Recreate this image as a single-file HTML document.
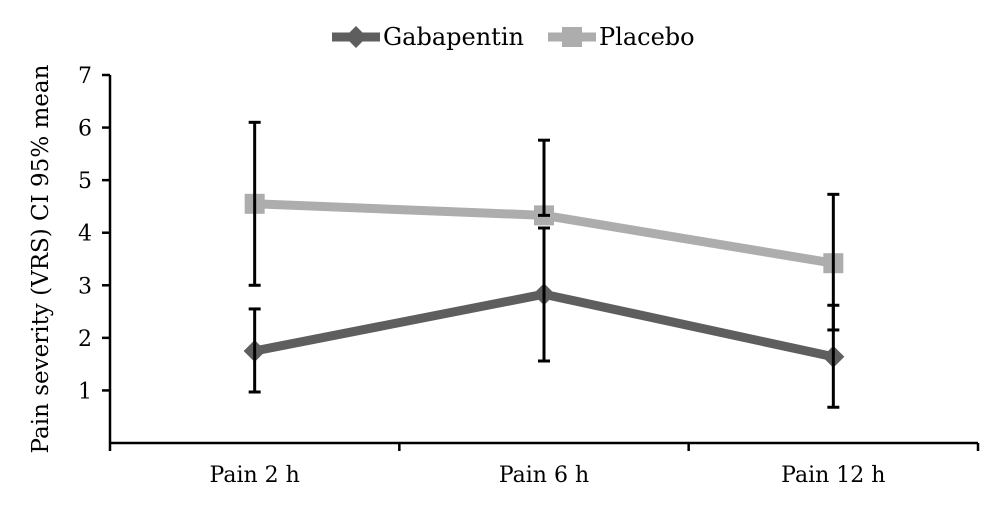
<!DOCTYPE html>
<html><head><meta charset="utf-8"><style>
body{margin:0;background:#fff;}
svg{display:block;font-family:"DejaVu Serif","Liberation Serif",serif;}
</style></head><body>
<svg id="chart" width="1000" height="507"></svg>
<script>
const categories=["Pain 2 h","Pain 6 h","Pain 12 h"];
const gabaMean=[1.75,2.83,1.64];
const gabaLow=[0.97,1.56,0.68];
const gabaHigh=[2.55,4.09,2.62];
const placMean=[4.55,4.33,3.42];
const placLow=[3.0,4.33,2.15];
const placHigh=[6.1,5.76,4.73];
const yTicks=[1,2,3,4,5,6,7];
const NS="http://www.w3.org/2000/svg";
const svg=document.getElementById('chart');
const x0=110,x1=978,y0=443,yTop=75,yMax=7;
const bw=(x1-x0)/categories.length;
const xs=i=>x0+bw*(i+0.5);
const ys=v=>y0-(y0-yTop)*v/yMax;
function el(t,a,p){const e=document.createElementNS(NS,t);for(const k in a)e.setAttribute(k,a[k]);(p||svg).appendChild(e);return e;}
// axes
let ax=el('line',{x1:x0,y1:y0,x2:x1,y2:y0,stroke:'#000','stroke-width':2.5});

ax=el('line',{x1:x0,y1:yTop,x2:x0,y2:y0,stroke:'#000','stroke-width':2.5});

for(let i=0;i<=categories.length;i++){el('line',{x1:x0+bw*i,y1:y0,x2:x0+bw*i,y2:y0+8,stroke:'#000','stroke-width':2.5});}
categories.forEach((c,i)=>{const t=el('text',{x:xs(i),y:482,'text-anchor':'middle','font-size':22});t.textContent=c;
});
yTicks.forEach(v=>{el('line',{x1:x0-8,y1:ys(v),x2:x0,y2:ys(v),stroke:'#000','stroke-width':2.5});
const t=el('text',{x:x0-18,y:ys(v)+8,'text-anchor':'end','font-size':22});t.textContent=v;
});
const yl=el('text',{x:0,y:0,transform:'translate(48,259) rotate(-90)','text-anchor':'middle','font-size':23});
yl.textContent='Pain severity (VRS) CI 95% mean';

// series
function series(mean,color,marker,name){
 const pts=mean.map((v,i)=>xs(i)+','+ys(v)).join(' ');
 const l=el('polyline',{points:pts,fill:'none',stroke:color,'stroke-width':9,'stroke-linejoin':'round'});
 
 mean.forEach((v,i)=>{let m;
  if(marker==='sq')m=el('rect',{x:xs(i)-10,y:ys(v)-10,width:20,height:20,fill:color});
  else m=el('polygon',{points:`${xs(i)},${ys(v)-11} ${xs(i)+11},${ys(v)} ${xs(i)},${ys(v)+11} ${xs(i)-11},${ys(v)}`,fill:color});
  });
}
function errs(lo,hi,name){
 lo.forEach((v,i)=>{const g=el('g',{stroke:'#000','stroke-width':3});
  
  el('line',{x1:xs(i),y1:ys(lo[i]),x2:xs(i),y2:ys(hi[i])},g);
  el('line',{x1:xs(i)-6,y1:ys(lo[i]),x2:xs(i)+6,y2:ys(lo[i])},g);
  el('line',{x1:xs(i)-6,y1:ys(hi[i]),x2:xs(i)+6,y2:ys(hi[i])},g);});
}
series(gabaMean,'#5e5e5e','dia','gabapentin');
series(placMean,'#adadad','sq','placebo');
errs(gabaLow,gabaHigh,'gabapentin');
errs(placLow,placHigh,'placebo');
// legend
const lg=el('g',{});
el('line',{x1:332,y1:37,x2:380,y2:37,stroke:'#5e5e5e','stroke-width':9},lg);
el('polygon',{points:'356,26 367,37 356,48 345,37',fill:'#5e5e5e'},lg);
let t=el('text',{x:383,y:45,'font-size':24},lg);t.textContent='Gabapentin';
el('line',{x1:548,y1:37,x2:596,y2:37,stroke:'#adadad','stroke-width':9},lg);
el('rect',{x:562,y:27,width:20,height:20,fill:'#adadad'},lg);
t=el('text',{x:599,y:45,'font-size':24},lg);t.textContent='Placebo';
</script>
</body></html>
